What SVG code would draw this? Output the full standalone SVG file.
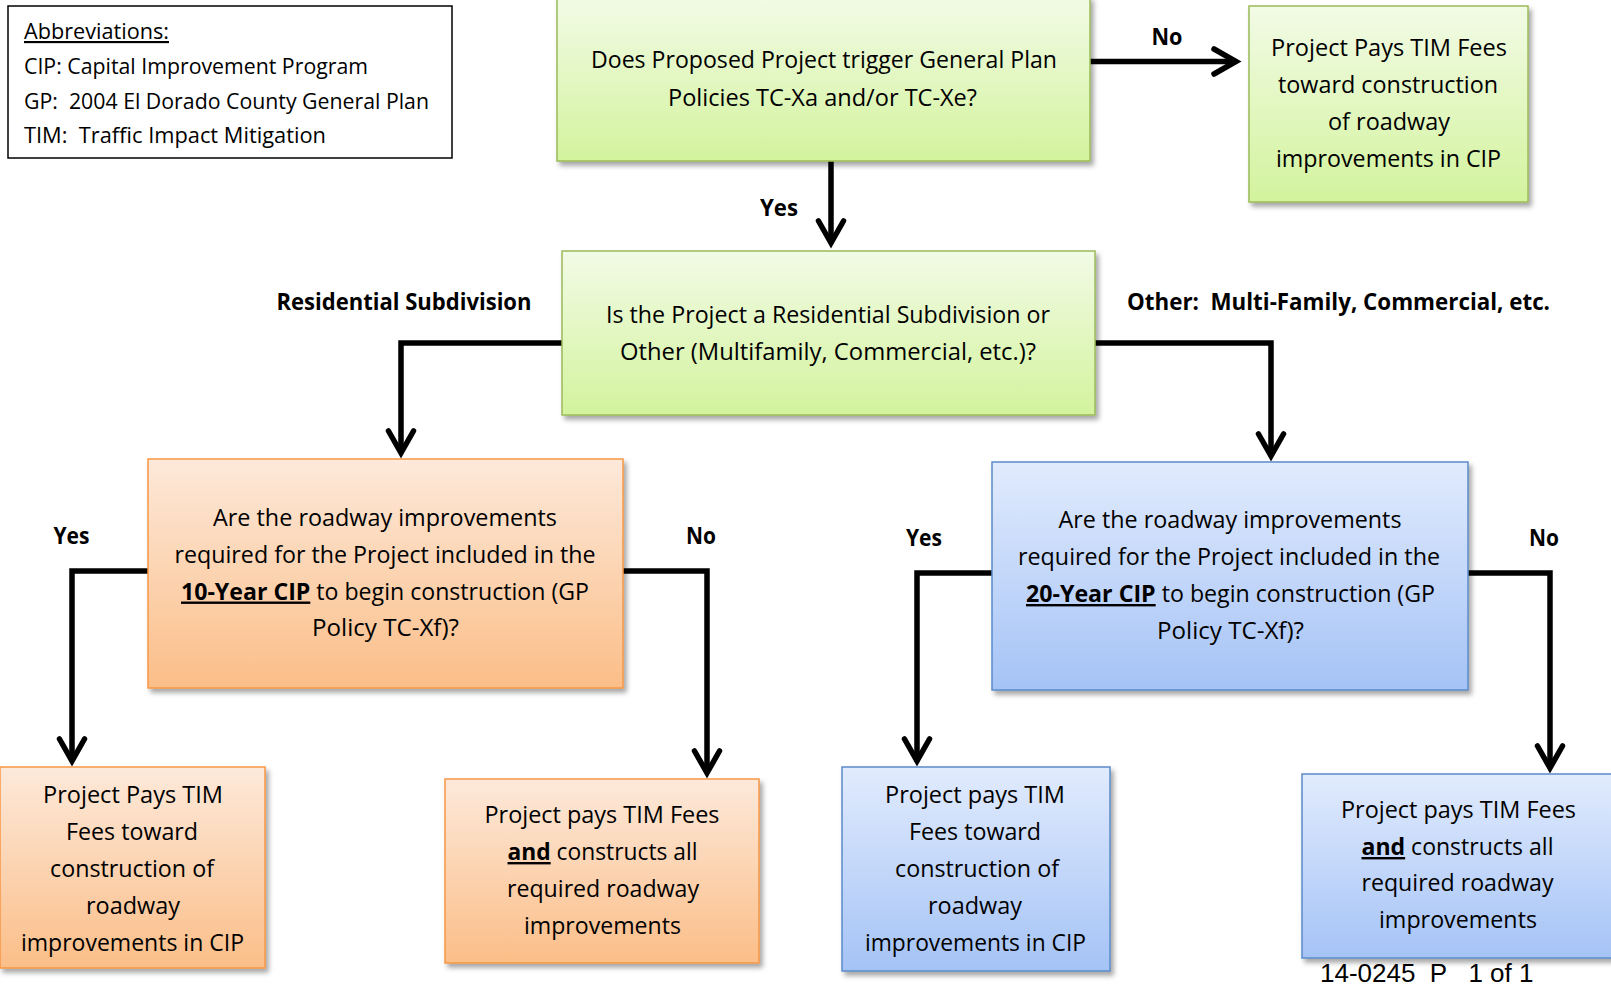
<svg xmlns="http://www.w3.org/2000/svg" width="1611" height="988" viewBox="0 0 1611 988">
<style>
  .t { font-family: "Open Sans", "Noto Sans", sans-serif; font-size: 24px; fill: #000; text-anchor: middle; }
  .ab { font-family: "Open Sans", "Noto Sans", sans-serif; font-size: 21.5px; fill: #000; white-space: pre; }
  .lb { font-family: "Open Sans", "Noto Sans", sans-serif; font-size: 22.5px; font-weight: bold; fill: #000; text-anchor: middle; white-space: pre; }
  .b { font-weight: bold; }
  .u { text-decoration: underline; }
  .green { fill: url(#gGreen); stroke: #9bbb59; stroke-width: 1.5; filter: url(#sh); }
  .orange { fill: url(#gOrange); stroke: #f79646; stroke-width: 1.5; filter: url(#sh); }
  .blue { fill: url(#gBlue); stroke: #5b8bc9; stroke-width: 1.5; filter: url(#sh); }
  .conn { fill: none; stroke: #000; stroke-width: 5.5; stroke-linejoin: miter; marker-end: url(#arr); }
  .foot { font-family: "Liberation Sans", Arial, sans-serif; font-size: 26px; fill: #000; white-space: pre; }
</style>
<defs>
  <linearGradient id="gGreen" x1="0" y1="0" x2="0" y2="1">
    <stop offset="0" stop-color="#f2fbe6"/>
    <stop offset="1" stop-color="#d3f39d"/>
  </linearGradient>
  <linearGradient id="gOrange" x1="0" y1="0" x2="0" y2="1">
    <stop offset="0" stop-color="#fde9da"/>
    <stop offset="1" stop-color="#fbbe88"/>
  </linearGradient>
  <linearGradient id="gBlue" x1="0" y1="0" x2="0" y2="1">
    <stop offset="0" stop-color="#e1ebfd"/>
    <stop offset="1" stop-color="#a5c3f6"/>
  </linearGradient>
  <filter id="sh" x="-10%" y="-10%" width="130%" height="130%">
    <feDropShadow dx="3" dy="4" stdDeviation="2.5" flood-color="#000" flood-opacity="0.35"/>
  </filter>
  <marker id="arr" markerUnits="userSpaceOnUse" markerWidth="60" markerHeight="60" refX="0" refY="0" orient="auto" overflow="visible">
    <path d="M -22 -12.5 L 0 0 L -22 12.5" fill="none" stroke="#000" stroke-width="5.5" stroke-linecap="round" stroke-linejoin="miter"/>
  </marker>
</defs>

<g id="abbreviations">
  <rect x="8" y="6" width="444" height="152" fill="#fff" stroke="#000" stroke-width="1.5"/>
  <text class="ab" x="24" y="39" textLength="145" lengthAdjust="spacingAndGlyphs"><tspan class="u">Abbreviations:</tspan></text>
  <text class="ab" x="24" y="74" textLength="344" lengthAdjust="spacingAndGlyphs">CIP: Capital Improvement Program</text>
  <text class="ab" x="24" y="108.5" textLength="405" lengthAdjust="spacingAndGlyphs">GP:  2004 El Dorado County General Plan</text>
  <text class="ab" x="24" y="143" textLength="302" lengthAdjust="spacingAndGlyphs">TIM:  Traffic Impact Mitigation</text>
</g>

<g id="connectors">
  <path class="conn" d="M 1090 61.5 L 1236 61.5"/>
  <path class="conn" d="M 831 161 L 831 243"/>
  <path class="conn" d="M 562 343 L 401 343 L 401 453"/>
  <path class="conn" d="M 1095 343 L 1271 343 L 1271 456"/>
  <path class="conn" d="M 148 571 L 72 571 L 72 761"/>
  <path class="conn" d="M 623 571 L 707 571 L 707 773"/>
  <path class="conn" d="M 992 573 L 917 573 L 917 761"/>
  <path class="conn" d="M 1468 573 L 1550 573 L 1550 768"/>
</g>

<g id="labels">
  <text class="lb" x="1167" y="45" textLength="31" lengthAdjust="spacingAndGlyphs">No</text>
  <text class="lb" x="779" y="216" textLength="38" lengthAdjust="spacingAndGlyphs">Yes</text>
  <text class="lb" x="404" y="310" textLength="255" lengthAdjust="spacingAndGlyphs">Residential Subdivision</text>
  <text class="lb" x="1338.5" y="310" textLength="423" lengthAdjust="spacingAndGlyphs">Other:  Multi-Family, Commercial, etc.</text>
  <text class="lb" x="71.5" y="544" textLength="36" lengthAdjust="spacingAndGlyphs">Yes</text>
  <text class="lb" x="701" y="544" textLength="30" lengthAdjust="spacingAndGlyphs">No</text>
  <text class="lb" x="924" y="546" textLength="36" lengthAdjust="spacingAndGlyphs">Yes</text>
  <text class="lb" x="1544" y="546" textLength="30" lengthAdjust="spacingAndGlyphs">No</text>
</g>

<g id="q-trigger">
  <rect class="green" x="557" y="-3" width="533" height="164"/>
  <text class="t" x="824" y="67.5" textLength="466" lengthAdjust="spacingAndGlyphs">Does Proposed Project trigger General Plan</text>
  <text class="t" x="822.5" y="105.5" textLength="309" lengthAdjust="spacingAndGlyphs">Policies TC-Xa and/or TC-Xe?</text>
</g>

<g id="pays-tim-cip">
  <rect class="green" x="1249" y="6" width="279" height="196"/>
  <text class="t" x="1389" y="56" textLength="236" lengthAdjust="spacingAndGlyphs">Project Pays TIM Fees</text>
  <text class="t" x="1388" y="93" textLength="220" lengthAdjust="spacingAndGlyphs">toward construction</text>
  <text class="t" x="1389" y="130" textLength="122" lengthAdjust="spacingAndGlyphs">of roadway</text>
  <text class="t" x="1388.5" y="167" textLength="225" lengthAdjust="spacingAndGlyphs">improvements in CIP</text>
</g>

<g id="q-type">
  <rect class="green" x="562" y="251" width="533" height="164"/>
  <text class="t" x="828" y="322.5" textLength="444" lengthAdjust="spacingAndGlyphs">Is the Project a Residential Subdivision or</text>
  <text class="t" x="828" y="359.5" textLength="416" lengthAdjust="spacingAndGlyphs">Other (Multifamily, Commercial, etc.)?</text>
</g>

<g id="q-10yr">
  <rect class="orange" x="148" y="459" width="475" height="229"/>
  <text class="t" x="385" y="526" textLength="344" lengthAdjust="spacingAndGlyphs">Are the roadway improvements</text>
  <text class="t" x="385" y="563" textLength="421" lengthAdjust="spacingAndGlyphs">required for the Project included in the</text>
  <text class="t" x="385" y="599.5" textLength="408" lengthAdjust="spacingAndGlyphs"><tspan class="b u">10-Year CIP</tspan> to begin construction (GP</text>
  <text class="t" x="385.5" y="636" textLength="147" lengthAdjust="spacingAndGlyphs">Policy TC-Xf)?</text>
</g>

<g id="q-20yr">
  <rect class="blue" x="992" y="462" width="476" height="228"/>
  <text class="t" x="1230" y="528" textLength="343" lengthAdjust="spacingAndGlyphs">Are the roadway improvements</text>
  <text class="t" x="1229" y="565" textLength="422" lengthAdjust="spacingAndGlyphs">required for the Project included in the</text>
  <text class="t" x="1230.5" y="602" textLength="409" lengthAdjust="spacingAndGlyphs"><tspan class="b u">20-Year CIP</tspan> to begin construction (GP</text>
  <text class="t" x="1230.5" y="639" textLength="147" lengthAdjust="spacingAndGlyphs">Policy TC-Xf)?</text>
</g>

<g id="res-pays-fees">
  <rect class="orange" x="0" y="767" width="265" height="201"/>
  <text class="t" x="133" y="803" textLength="180" lengthAdjust="spacingAndGlyphs">Project Pays TIM</text>
  <text class="t" x="132" y="840" textLength="132" lengthAdjust="spacingAndGlyphs">Fees toward</text>
  <text class="t" x="132" y="877" textLength="164" lengthAdjust="spacingAndGlyphs">construction of</text>
  <text class="t" x="133" y="914" textLength="94" lengthAdjust="spacingAndGlyphs">roadway</text>
  <text class="t" x="132.5" y="951" textLength="223" lengthAdjust="spacingAndGlyphs">improvements in CIP</text>
</g>

<g id="res-pays-constructs">
  <rect class="orange" x="445" y="779" width="314" height="184"/>
  <text class="t" x="602" y="823" textLength="235" lengthAdjust="spacingAndGlyphs">Project pays TIM Fees</text>
  <text class="t" x="602.5" y="860" textLength="190" lengthAdjust="spacingAndGlyphs"><tspan class="b u">and</tspan> constructs all</text>
  <text class="t" x="603" y="897" textLength="192" lengthAdjust="spacingAndGlyphs">required roadway</text>
  <text class="t" x="602.5" y="934" textLength="157" lengthAdjust="spacingAndGlyphs">improvements</text>
</g>

<g id="other-pays-fees">
  <rect class="blue" x="842" y="767" width="268" height="204"/>
  <text class="t" x="975" y="803" textLength="180" lengthAdjust="spacingAndGlyphs">Project pays TIM</text>
  <text class="t" x="975" y="840" textLength="132" lengthAdjust="spacingAndGlyphs">Fees toward</text>
  <text class="t" x="977" y="877" textLength="164" lengthAdjust="spacingAndGlyphs">construction of</text>
  <text class="t" x="975" y="914" textLength="94" lengthAdjust="spacingAndGlyphs">roadway</text>
  <text class="t" x="975.5" y="951" textLength="221" lengthAdjust="spacingAndGlyphs">improvements in CIP</text>
</g>

<g id="other-pays-constructs">
  <rect class="blue" x="1302" y="774" width="312" height="184"/>
  <text class="t" x="1458.5" y="818" textLength="235" lengthAdjust="spacingAndGlyphs">Project pays TIM Fees</text>
  <text class="t" x="1457.5" y="855" textLength="192" lengthAdjust="spacingAndGlyphs"><tspan class="b u">and</tspan> constructs all</text>
  <text class="t" x="1457.5" y="891" textLength="192" lengthAdjust="spacingAndGlyphs">required roadway</text>
  <text class="t" x="1458" y="928" textLength="158" lengthAdjust="spacingAndGlyphs">improvements</text>
</g>

<g id="footer">
  <text class="foot" x="1320" y="982">14-0245  P   1 of 1</text>
</g>
</svg>
